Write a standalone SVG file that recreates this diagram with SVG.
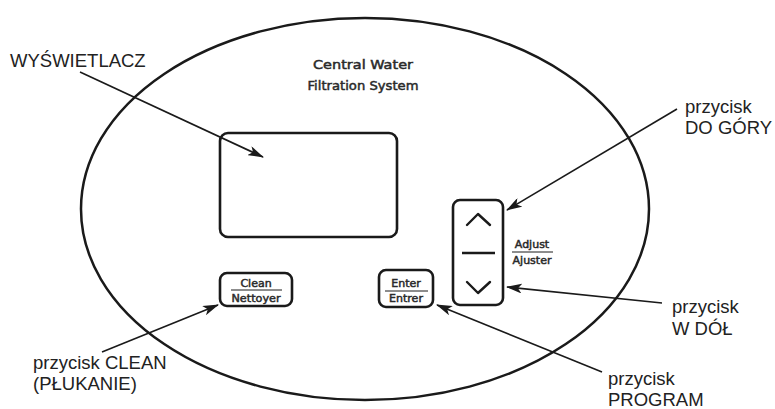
<svg xmlns="http://www.w3.org/2000/svg" width="775" height="409" viewBox="0 0 775 409">
<style>
.outline{fill:none;stroke:#1a1a1a;stroke-width:2.5}
.box{fill:#fff;stroke:#1a1a1a;stroke-width:2.6}
.lbl{font-family:"Liberation Sans",Arial,sans-serif;font-size:18.5px;fill:#222}
.dev{font-family:"DejaVu Sans",sans-serif;font-weight:normal;fill:#2a2a2a;stroke:#2a2a2a;stroke-width:0.5}
.btn{font-size:11px;text-anchor:middle}
.rule{stroke:#1a1a1a;stroke-width:1}
.conn{fill:none;stroke:#1a1a1a;stroke-width:1.6;marker-end:url(#arr)}
.chev{fill:none;stroke:#1a1a1a;stroke-width:2.4;stroke-linecap:round;stroke-linejoin:round}
</style>
<defs>
<marker id="arr" viewBox="0 0 16 10" refX="15" refY="5" markerWidth="16" markerHeight="10" markerUnits="userSpaceOnUse" orient="auto">
<path d="M0,0 L16,5 L0,10 L4,5 Z" fill="#1a1a1a"/>
</marker>
</defs>
<rect width="775" height="409" fill="#fff"/>
<g id="device">
<ellipse class="outline" cx="365" cy="209" rx="284" ry="191"/>
<text class="dev" font-size="13" text-anchor="middle" x="363" y="69" textLength="100" lengthAdjust="spacingAndGlyphs">Central Water</text>
<text class="dev" font-size="13" text-anchor="middle" x="363" y="90" textLength="111" lengthAdjust="spacingAndGlyphs">Filtration System</text>
</g>
<g id="display">
<rect class="box" x="220" y="133" width="177" height="104" rx="8"/>
</g>
<g id="clean-button">
<rect class="box" x="220" y="273" width="72" height="33" rx="7"/>
<text class="dev btn" x="256" y="287">Clean</text>
<line class="rule" x1="231" y1="290" x2="282" y2="290"/>
<text class="dev btn" x="256" y="302" textLength="49" lengthAdjust="spacingAndGlyphs">Nettoyer</text>
</g>
<g id="enter-button">
<rect class="box" x="379" y="270" width="54" height="37" rx="7"/>
<text class="dev btn" x="406" y="287">Enter</text>
<line class="rule" x1="385" y1="291" x2="428" y2="291"/>
<text class="dev btn" x="406" y="302">Entrer</text>
</g>
<g id="adjust-buttons">
<rect class="box" x="453" y="200" width="50" height="105" rx="7"/>
<polyline class="chev" points="467,225 478,214 490,225"/>
<line x1="462" y1="253" x2="495" y2="253" stroke="#1a1a1a" stroke-width="2.6"/>
<polyline class="chev" points="467,282 478,293 490,282"/>
<text class="dev btn" x="532" y="248">Adjust</text>
<line class="rule" x1="512" y1="252" x2="553" y2="252"/>
<text class="dev btn" x="532" y="264">Ajuster</text>
</g>
<g id="label-display">
<text class="lbl" x="10" y="67">WYŚWIETLACZ</text>
</g>
<g id="label-up">
<text class="lbl" x="685" y="113">przycisk</text>
<text class="lbl" x="685" y="134">DO GÓRY</text>
</g>
<g id="label-down">
<text class="lbl" x="672" y="313">przycisk</text>
<text class="lbl" x="672" y="335">W DÓŁ</text>
</g>
<g id="label-program">
<text class="lbl" x="608" y="385">przycisk</text>
<text class="lbl" x="608" y="406">PROGRAM</text>
</g>
<g id="label-clean">
<text class="lbl" x="33" y="369">przycisk CLEAN</text>
<text class="lbl" x="33" y="390">(PŁUKANIE)</text>
</g>
<g id="connectors">
<line class="conn" x1="80" y1="72" x2="263" y2="157"/>
<line class="conn" x1="677" y1="109" x2="507" y2="210"/>
<line class="conn" x1="662" y1="303" x2="507" y2="287"/>
<line class="conn" x1="602" y1="372" x2="437" y2="305"/>
<line class="conn" x1="102" y1="352" x2="218" y2="305"/>
</g>
</svg>
